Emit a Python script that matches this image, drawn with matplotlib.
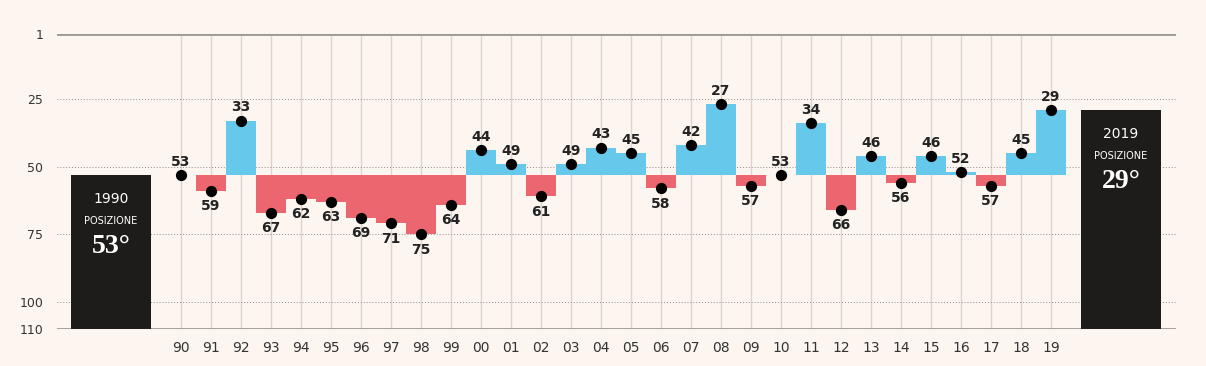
import matplotlib
matplotlib.use('Agg')
import matplotlib.pyplot as plt
import numpy as np

# Data
YEARS = ['90', '91', '92', '93', '94', '95', '96', '97', '98', '99',
         '00', '01', '02', '03', '04', '05', '06', '07', '08', '09',
         '10', '11', '12', '13', '14', '15', '16', '17', '18', '19']
RANKS = [53, 59, 33, 67, 62, 63, 69, 71, 75, 64,
         44, 49, 61, 49, 43, 45, 58, 42, 27, 57,
         53, 34, 66, 46, 56, 46, 52, 57, 45, 29]
Y_TICKS = [1, 25, 50, 75, 100, 110]
BOX_LABEL = 'POSIZIONE'

BG = '#fdf6f0'
BLUE = '#66c9ec'
RED = '#ec6670'
DARK = '#1e1c1a'


def main():
    plt.rcParams['font.family'] = ['DejaVu Sans']
    ranks = np.array(RANKS)
    x = np.arange(len(YEARS))
    base = ranks[0]
    last = ranks[-1]

    fig = plt.figure(figsize=(12.06, 3.66), dpi=100, facecolor=BG)
    ax = fig.add_axes([57 / 1206, 1 - 329 / 366, 1119 / 1206, 295 / 366])
    ax.set_facecolor(BG)
    ax.set_xlim(-4.133, 33.167)
    ax.set_ylim(110, 1)

    # grid
    for xi in x:
        ax.axvline(xi, color='#ddd4cd', lw=1, zorder=0)
    for yv in [25, 50, 75, 100]:
        ax.axhline(yv, color='#8f8a85', lw=0.7, ls=(0, (1, 2)), zorder=0.5)
    for yv in [1, 110]:
        ax.axhline(yv, color='#9e9892', lw=2, zorder=0.5)

    # bars relative to first year
    colors = [BLUE if r < base else RED for r in ranks]
    ax.bar(x, ranks - base, bottom=base, width=1.0, color=colors,
           linewidth=0, zorder=1)
    ax.scatter(x, ranks, s=50, color='black', zorder=3)
    for xi, r in zip(x, ranks):
        off = 9.5 if r <= base else -11
        ax.annotate(str(r), (xi, r), xytext=(0, off), textcoords='offset points',
                    ha='center', va='center', fontsize=10, fontweight='bold',
                    color='#222222', zorder=4)

    # start / end boxes
    box_x = [-2.333, len(YEARS) - 1 + 2.333]
    box_top = [base, last]
    box_years = ['19' + YEARS[0], '20' + YEARS[-1]]
    ax.bar(box_x, [110 - t for t in box_top], bottom=box_top, width=2.667,
           color=DARK, linewidth=0, zorder=2)
    for bx, bt, by in zip(box_x, box_top, box_years):
        ax.annotate(by, (bx, bt), xytext=(0, -17.5), textcoords='offset points',
                    ha='center', va='center', fontsize=10, color='white', zorder=5)
        ax.annotate(BOX_LABEL, (bx, bt), xytext=(0, -33.5), textcoords='offset points',
                    ha='center', va='center', fontsize=7, color='white', zorder=5)
        ax.annotate(str(bt) + '°', (bx, bt), xytext=(0, -51.5), textcoords='offset points',
                    ha='center', va='center', fontsize=20, fontweight='bold',
                    family='Liberation Serif', color='white', zorder=5)

    ax.set_xticks(x)
    ax.set_xticklabels(YEARS, fontsize=10, color='#333333')
    ax.set_yticks(Y_TICKS)
    ax.set_yticklabels([str(t) for t in Y_TICKS], fontsize=9, color='#333333')
    ax.tick_params(length=0)
    ax.tick_params(axis='x', pad=9)
    ax.tick_params(axis='y', pad=10)
    for s in ax.spines.values():
        s.set_visible(False)

    fig.savefig('out.png', dpi=100, facecolor=BG)


if __name__ == '__main__':
    main()
